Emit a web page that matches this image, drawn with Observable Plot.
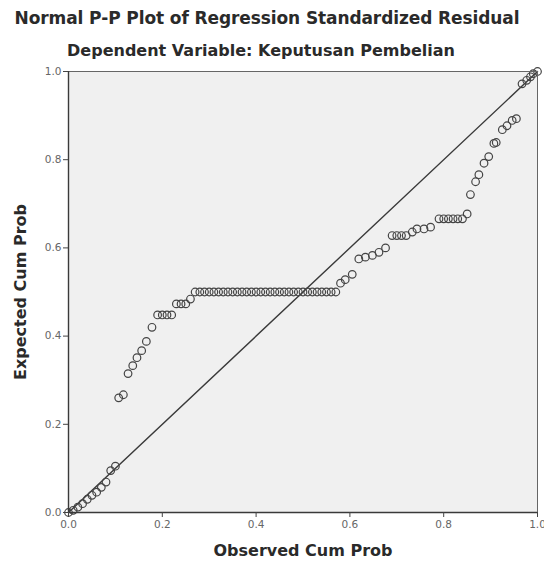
<!DOCTYPE html>
<html>
<head>
<meta charset="utf-8">
<script src="https://cdn.jsdelivr.net/npm/d3@7"></script>
<script src="https://cdn.jsdelivr.net/npm/@observablehq/plot@0.6"></script>
<style>
  html, body { margin: 0; padding: 0; background: #fff; }
  body { width: 544px; height: 567px; overflow: hidden; font-family: "DejaVu Sans", sans-serif; }
  #head { position: relative; height: 62px; }
  .t { position: absolute; left: 0; text-align: center; font-weight: bold; color: #2a2a2a; white-space: nowrap; font-family: "DejaVu Sans", sans-serif; }
  #title { top: 8px; width: 534px; font-size: 17px; letter-spacing: -0.1px; }
  #subtitle { top: 41px; width: 522px; font-size: 16px; }
  #chart svg { display: block; font-family: "DejaVu Sans", sans-serif; }
  #chart g[aria-label="x-axis tick label"] text,
  #chart g[aria-label="y-axis tick label"] text { fill: #666; font-size: 10.5px; }
  #chart g[aria-label="x-axis label"] text,
  #chart g[aria-label="y-axis label"] text { fill: #2a2a2a; font-size: 16px; font-weight: bold; }
</style>
</head>
<body>
<div id="head">
  <div class="t" id="title">Normal P-P Plot of Regression Standardized Residual</div>
  <div class="t" id="subtitle">Dependent Variable: Keputusan Pembelian</div>
</div>
<div id="chart"></div>
<script>
const titleText = "Normal P-P Plot of Regression Standardized Residual";
const subtitleText = "Dependent Variable: Keputusan Pembelian";
const xLabel = "Observed Cum Prob";
const yLabel = "Expected Cum Prob";
const tickValues = [0.0, 0.2, 0.4, 0.6, 0.8, 1.0];
const diagonal = [0, 1];

const observed = [
  0.00, 0.01, 0.02, 0.03, 0.04, 0.05, 0.06, 0.07, 0.08, 0.09, 0.10,
  0.107, 0.117,
  0.127, 0.137, 0.146, 0.156, 0.166, 0.178,
  0.19, 0.20, 0.21, 0.22,
  0.23, 0.24, 0.25,
  0.26,
  0.27, 0.28, 0.29, 0.30, 0.31, 0.32, 0.33, 0.34, 0.35, 0.36, 0.37, 0.38, 0.39, 0.40, 0.41,
  0.42, 0.43, 0.44, 0.45, 0.46, 0.47, 0.48, 0.49, 0.50, 0.51, 0.52, 0.53, 0.54, 0.55, 0.56, 0.57,
  0.58, 0.59, 0.605,
  0.619, 0.633, 0.648, 0.662, 0.676,
  0.69, 0.70, 0.71, 0.72,
  0.733, 0.743, 0.758, 0.772,
  0.79, 0.80, 0.81, 0.82, 0.83, 0.84,
  0.85,
  0.857, 0.868, 0.875, 0.886, 0.896, 0.907, 0.912,
  0.925, 0.935, 0.946, 0.955,
  0.967, 0.977, 0.985, 0.991, 1.00
];
const expected = [
  0.000, 0.005, 0.012, 0.020, 0.030, 0.039, 0.046, 0.057, 0.069, 0.095, 0.105,
  0.260, 0.267,
  0.315, 0.333, 0.351, 0.367, 0.388, 0.420,
  0.448, 0.448, 0.448, 0.448,
  0.473, 0.473, 0.473,
  0.484,
  0.500, 0.500, 0.500, 0.500, 0.500, 0.500, 0.500, 0.500, 0.500, 0.500, 0.500, 0.500, 0.500, 0.500, 0.500,
  0.500, 0.500, 0.500, 0.500, 0.500, 0.500, 0.500, 0.500, 0.500, 0.500, 0.500, 0.500, 0.500, 0.500, 0.500, 0.500,
  0.520, 0.528, 0.540,
  0.575, 0.579, 0.583, 0.590, 0.600,
  0.628, 0.628, 0.628, 0.628,
  0.636, 0.643, 0.643, 0.647,
  0.666, 0.666, 0.666, 0.666, 0.666, 0.666,
  0.677,
  0.721, 0.750, 0.766, 0.792, 0.807, 0.837, 0.839,
  0.868, 0.877, 0.889, 0.893,
  0.972, 0.980, 0.988, 0.995, 1.000
];

document.getElementById("title").textContent = titleText;
document.getElementById("subtitle").textContent = subtitleText;

const points = observed.map((o, i) => ({observed: o, expected: expected[i]}));

const chart = Plot.plot({
  width: 544,
  height: 505,
  marginTop: 9,
  marginBottom: 55,
  marginLeft: 68,
  marginRight: 7,
  style: {background: "#fff", color: "#333", fontSize: "10.5px"},
  x: {domain: [0, 1]},
  y: {domain: [0, 1]},
  marks: [
    Plot.frame({fill: "#f0f0f0", stroke: null}),
    Plot.line(diagonal, {x: d => d, y: d => d, stroke: "#3a3a3a", strokeWidth: 1.4}),
    Plot.dot(points, {x: "observed", y: "expected", r: 3.8, stroke: "#444", strokeWidth: 1.2, fill: "none"}),
    Plot.frame({stroke: "#666", strokeWidth: 1}),
    Plot.ruleY([0], {stroke: "#3a3a3a", strokeWidth: 1.4}),
    Plot.ruleX([0], {stroke: "#3a3a3a", strokeWidth: 1.4}),
    Plot.axisX({ticks: tickValues, tickFormat: d3.format(".1f"), tickSize: 5, tickPadding: 3, stroke: "#444",
      label: xLabel, labelAnchor: "center", labelArrow: "none", labelOffset: 43}),
    Plot.axisY({ticks: tickValues, tickFormat: d3.format(".1f"), tickSize: 5, tickPadding: 2, stroke: "#444",
      label: yLabel, labelAnchor: "center", labelArrow: "none", labelOffset: 54})
  ]
});
document.getElementById("chart").appendChild(chart);
</script>
</body>
</html>
